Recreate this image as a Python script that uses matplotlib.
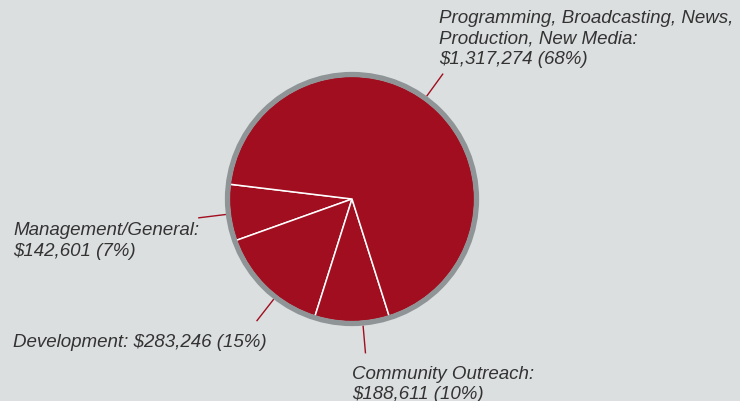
import numpy as np
import matplotlib
matplotlib.use("Agg")
import matplotlib.pyplot as plt
from matplotlib.patches import Circle

# 数据
categories = ["Management/General", "Development", "Community Outreach",
              "Programming, Broadcasting, News,\nProduction, New Media"]
values = [142601, 283246, 188611, 1317274]
# 标签中冒号之后是换行还是空格
label_breaks = ["\n", " ", "\n", "\n"]

# 版面 (像素坐标, y 向下)
W, H = 740, 402
cx, cy = 352, 200
r_red, r_ring = 123, 124.5
# 引线角度和标签位置 (左边, 第一行基线)
leader_angles = [187, 232, 275, 54]
label_pos = [(13, 235), (13, 347), (352, 379), (439, 23)]
line_step = 20.5

bg = "#dcdfe0"
red = "#a10e20"
ring = "#8f9496"
txt = "#333333"

fig = plt.figure(figsize=(W / 100, H / 100), dpi=100, facecolor=bg)
ax = fig.add_axes([0, 0, 1, 1])
ax.set_facecolor(bg)

ax.pie(values, colors=[red] * len(values), startangle=173.1, counterclock=True,
       radius=r_red, center=(cx, H - cy),
       wedgeprops=dict(edgecolor="white", linewidth=1.1))
ax.add_patch(Circle((cx, H - cy), r_ring, fill=False, edgecolor=ring, linewidth=3.8, zorder=5))

total = sum(values)
for name, v, sep, ang, (lx, ly) in zip(categories, values, label_breaks, leader_angles, label_pos):
    a = np.deg2rad(ang)
    r0, r1 = 127, 155
    ax.plot([cx + r0 * np.cos(a), cx + r1 * np.cos(a)],
            [H - cy + r0 * np.sin(a), H - cy + r1 * np.sin(a)],
            color=red, linewidth=1.0, solid_capstyle="butt")
    text = f"{name}:{sep}${v:,} ({round(v / total * 100)}%)"
    for i, line in enumerate(text.split("\n")):
        ax.text(lx, H - (ly + i * line_step), line, fontsize=13.5, style="italic",
                family="Liberation Sans", color=txt, va="baseline", ha="left")

ax.set_xlim(0, W)
ax.set_ylim(0, H)
ax.set_aspect("equal")
ax.axis("off")

fig.savefig("out.png", dpi=100, facecolor=bg)
